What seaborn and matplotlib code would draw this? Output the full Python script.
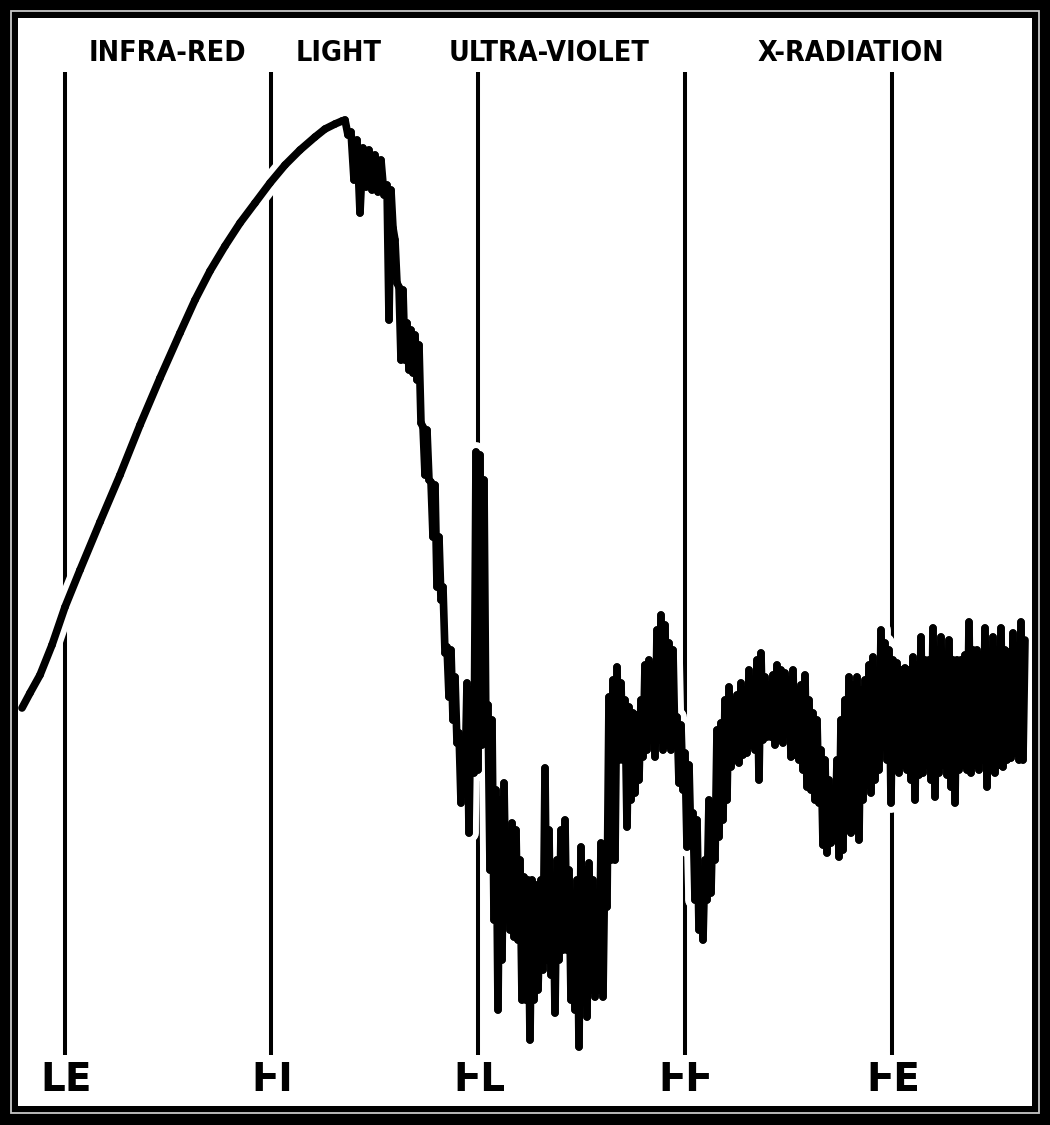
import matplotlib
matplotlib.use("Agg")
import matplotlib.pyplot as plt
from matplotlib.patches import Rectangle
import pandas as pd
import seaborn as sns

# smooth rise of the spectrum (channel, level)
smooth_channel = [22, 30, 40, 52, 65, 80, 100, 120, 140, 160, 180, 195, 210, 225, 240, 255, 270, 285,
                  300, 315, 325, 335, 342]
smooth_level = [398, 413, 431, 461, 499, 536, 584, 631, 681, 728, 773, 806, 835, 860, 883, 903, 923, 941,
                956, 969, 977, 982, 985]

# noisy part: alternating top / bottom readings of the trace
noisy_channel = [345, 348, 351, 354, 357, 360, 363, 366, 369, 372, 375, 378, 381, 384, 387, 389, 391, 393,
                 395, 397, 399, 401, 403, 405, 407, 409, 411, 413, 415, 417, 419, 421, 423, 425, 427, 429,
                 431, 433, 435, 437, 439, 441, 443, 445, 447, 449, 451, 453, 455, 457, 459, 461, 463, 465,
                 467, 469, 471, 474, 476, 478, 480, 482, 484, 486, 488, 490, 492, 494, 496, 498, 500, 502,
                 504, 506, 508, 510, 512, 514, 516, 518, 520, 522, 524, 526, 528, 530, 532, 534, 536, 538,
                 541, 543, 545, 547, 549, 551, 553, 555, 557, 559, 561, 563, 565, 567, 569, 571, 573, 575,
                 577, 579, 581, 583, 585, 587, 589, 591, 593, 595, 597, 599, 601, 603, 605, 607, 609, 611,
                 613, 615, 617, 619, 621, 623, 625, 627, 629, 631, 633, 635, 637, 639, 641, 643, 645, 647,
                 649, 651, 653, 655, 657, 659, 661, 663, 665, 667, 669, 671, 673, 675, 677, 679, 681, 683,
                 685, 687, 689, 691, 693, 695, 697, 699, 701, 703, 705, 707, 709, 711, 713, 715, 717, 719,
                 721, 723, 725, 727, 729, 731, 733, 735, 737, 739, 741, 743, 745, 747, 749, 751, 753, 755,
                 757, 759, 761, 763, 765, 767, 769, 771, 773, 775, 777, 779, 781, 783, 785, 787, 789, 791,
                 793, 795, 797, 799, 801, 803, 805, 807, 809, 811, 813, 815, 817, 819, 821, 823, 825, 827,
                 829, 831, 833, 835, 837, 839, 841, 843, 845, 847, 849, 851, 853, 855, 857, 859, 861, 863,
                 865, 867, 869, 871, 873, 875, 877, 879, 881, 883, 885, 887, 889, 891, 893, 895, 897, 899,
                 901, 903, 905, 907, 909, 911, 913, 915, 917, 919, 921, 923, 925, 927, 929, 931, 933, 935,
                 937, 939, 941, 943, 945, 947, 949, 951, 953, 955, 957, 959, 961, 963, 965, 967, 969, 971,
                 973, 975, 977, 979, 981, 983, 985, 987, 989, 991, 993, 995, 997, 999, 1001, 1003, 1005, 1007,
                 1009, 1011, 1013, 1015, 1017, 1019, 1021, 1023, 1025]
noisy_level = [986, 971, 974, 926, 966, 893, 958, 919, 956, 916, 951, 914, 946, 911, 921, 786, 916, 878,
               866, 823, 819, 746, 816, 746, 783, 736, 776, 733, 771, 726, 761, 683, 679, 631, 676, 626,
               624, 569, 621, 519, 569, 506, 519, 453, 459, 409, 456, 386, 429, 363, 373, 303, 366, 326,
               423, 273, 416, 333, 654, 336, 651, 361, 626, 366, 401, 236, 386, 186, 316, 96, 306, 146,
               323, 206, 266, 176, 283, 169, 276, 166, 246, 106, 229, 106, 226, 66, 226, 106, 221, 116,
               226, 136, 338, 146, 276, 131, 226, 93, 246, 146, 276, 156, 286, 156, 236, 106, 206, 96,
               226, 59, 259, 116, 236, 89, 243, 116, 226, 109, 179, 116, 263, 109, 256, 199, 409, 246,
               426, 246, 439, 346, 423, 346, 406, 279, 399, 306, 393, 313, 391, 326, 406, 349, 441, 356,
               446, 366, 441, 349, 476, 366, 491, 356, 481, 361, 463, 356, 456, 361, 389, 323, 381, 316,
               353, 259, 341, 261, 293, 206, 286, 176, 226, 166, 246, 206, 306, 213, 296, 246, 376, 269,
               383, 286, 406, 306, 419, 339, 406, 346, 411, 343, 423, 351, 416, 353, 436, 361, 426, 356,
               446, 326, 453, 366, 429, 369, 421, 369, 431, 361, 441, 366, 436, 363, 433, 386, 426, 349,
               436, 351, 416, 346, 421, 336, 431, 319, 406, 316, 393, 306, 386, 303, 356, 261, 346, 253,
               326, 263, 316, 266, 346, 249, 386, 256, 406, 276, 429, 273, 421, 276, 429, 266, 416, 306,
               426, 321, 441, 313, 449, 326, 426, 336, 476, 373, 463, 346, 456, 303, 446, 336, 443, 333,
               436, 341, 438, 336, 436, 326, 449, 306, 441, 331, 469, 333, 446, 341, 446, 326, 478, 309,
               456, 333, 469, 341, 441, 331, 466, 319, 446, 303, 446, 336, 446, 341, 451, 336, 484, 333,
               456, 341, 456, 336, 451, 346, 478, 319, 451, 336, 469, 333, 456, 341, 478, 339, 456, 346,
               454, 348, 473, 353, 456, 346, 484, 346, 466]

band_edges = [65, 271, 478, 685, 892]
edge_labels = ["LE", "ⱵI", "ⱵL", "ⱵⱵ", "ⱵE"]
band_names = ["INFRA-RED", "LIGHT", "ULTRA-VIOLET", "X-RADIATION"]

sns.set_style("white")
plt.rcParams["font.family"] = ["DejaVu Sans", "Noto Sans"]

# one short piece per pair of neighbouring readings, so the thick zigzag
# does not punch holes in itself when it is stroked
ch = smooth_channel + noisy_channel
lv = smooth_level + noisy_level
rows = []
for i in range(len(ch) - 1):
    rows.append((i, ch[i], lv[i]))
    rows.append((i, ch[i + 1], lv[i + 1]))
df = pd.DataFrame(rows, columns=["piece", "channel", "level"])

fig = plt.figure(figsize=(10.5, 11.25), dpi=100, facecolor="black")
fig.patches.append(Rectangle((11 / 1050, 12 / 1125), 1028 / 1050, 1102 / 1125,
                             transform=fig.transFigure, fill=False,
                             edgecolor="#c8c8c8", lw=1.3))
ax = fig.add_axes([18 / 1050, 19 / 1125, 1014 / 1050, 1088 / 1125])
ax.set_facecolor("white")

ax.vlines(band_edges, 51, 1034, color="black", lw=2.9, zorder=1)

# white halo under the trace cuts the band lines where it crosses them
sns.lineplot(data=df, x="channel", y="level", units="piece", ax=ax, color="white",
             lw=14, estimator=None, sort=False, zorder=2, solid_capstyle="round")
sns.lineplot(data=df, x="channel", y="level", units="piece", ax=ax, color="black",
             lw=5.5, estimator=None, sort=False, zorder=3, solid_capstyle="round")

for name, xc in zip(band_names, [167, 339, 549, 851]):
    ax.text(xc, 1053, name, ha="center", va="center", fontsize=20.5,
            fontweight="bold", fontstretch="condensed", color="black")
for lab, xc in zip(edge_labels, band_edges):
    ax.text(xc + 1, 26, lab, ha="center", va="center", fontsize=28,
            fontweight="bold", color="black")

ax.set_xlim(18, 1032)
ax.set_ylim(0, 1088)
ax.set_xticks([])
ax.set_yticks([])
ax.set_xlabel("")
ax.set_ylabel("")
for s in ax.spines.values():
    s.set_visible(False)

fig.savefig("out.png", dpi=100, facecolor="black")
